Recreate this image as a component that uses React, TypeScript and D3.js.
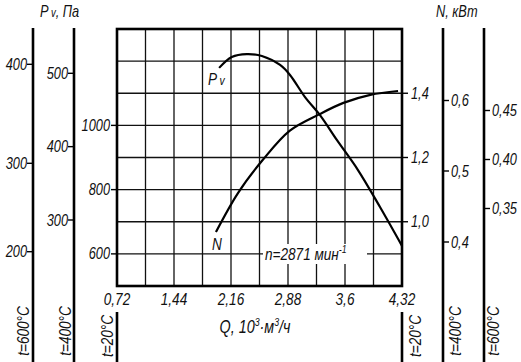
import React from 'react';
import { scaleLinear, line, curveCatmullRom } from 'd3';

// flow axis
const qTicks = [0.72, 1.44, 2.16, 2.88, 3.6, 4.32];
const qGrid = [0.72, 1.08, 1.44, 1.8, 2.16, 2.52, 2.88, 3.24, 3.6, 3.96, 4.32];

// Pv curve (20°C scale)
const pvQ = [2.01, 2.17, 2.36, 2.55, 2.78, 2.905, 3.095, 3.284, 3.499, 3.764, 4.042, 4.32];
const pvVals = [1179, 1213, 1222, 1216, 1188, 1157, 1088, 1032, 954, 861, 746, 625];

// N curve (20°C scale)
const nQ = [1.97, 2.25, 2.56, 2.9, 3.28, 3.58, 3.92, 4.27];
const nVals = [0.968, 1.09, 1.192, 1.283, 1.335, 1.37, 1.395, 1.407];

// axis ticks
const pvGrid = [500, 600, 700, 800, 900, 1000, 1100, 1200, 1300];
const pv20Ticks = [600, 800, 1000];
const pv400Ticks = [300, 400, 500];
const pv600Ticks = [200, 300, 400];
const n20Ticks = [1.0, 1.2, 1.4];
const n400Ticks = [0.4, 0.5, 0.6];
const n600Ticks = [0.35, 0.40, 0.45];

const FONT = "'Liberation Sans', Arial, sans-serif";
const comma = (v: number, d: number) => v.toFixed(d).replace('.', ',');

// narrow italic text (squeezed horizontally, like Arial Narrow)
const T = ({ x, y, size = 16, anchor = 'start', rotate = 0, children }: any) => (
    <text transform={`translate(${x},${y}) rotate(${rotate}) scale(0.8,1)`}
        fontFamily={FONT} fontStyle="italic" fontSize={size} fill="#111" textAnchor={anchor}>
        {children}
    </text>
);

export default function App() {
    const left = 117, right = 402, top = 29, bottom = 286;

    const x = scaleLinear().domain([0.72, 4.32]).range([left, right]);
    const yPv = scaleLinear().domain([500, 1300]).range([bottom, top]);
    const yN = scaleLinear().domain([0.8, 1.6]).range([bottom, top]);
    const yPv400 = scaleLinear().domain([300, 500]).range([220, 73.3]);
    const yPv600 = scaleLinear().domain([200, 300, 400]).range([251.7, 163.3, 64.3]);
    const yN400 = scaleLinear().domain([0.4, 0.5, 0.6]).range([242, 171, 100.5]);
    const yN600 = scaleLinear().domain([0.35, 0.40, 0.45]).range([208.5, 159.5, 110.5]);

    const pvLine = line<number>()
        .x((d, i) => x(pvQ[i]))
        .y(d => yPv(d))
        .curve(curveCatmullRom);
    const nLine = line<number>()
        .x((d, i) => x(nQ[i]))
        .y(d => yN(d))
        .curve(curveCatmullRom);

    const sideAxis = (ax: number, scale: any, ticks: number[], side: 'left' | 'right', fmt: (v: number) => string) => (
        <g>
            <line x1={ax} x2={ax} y1={28} y2={362} stroke="#000" strokeWidth={2.6} />
            {ticks.map(t => (
                <g key={t}>
                    <line x1={ax} x2={side === 'left' ? ax - 6 : ax + 6} y1={scale(t)} y2={scale(t)} stroke="#000" strokeWidth={1.4} />
                    <T x={side === 'left' ? ax - 6 : ax + 8} y={scale(t) + 5.5}
                        anchor={side === 'left' ? 'end' : 'start'}>{fmt(t)}</T>
                </g>
            ))}
        </g>
    );

    const vLabel = (cx: number, cy: number, s: string) => (
        <T x={cx + 5.5} y={cy} rotate={-90} anchor="middle" size={17}>{s}</T>
    );

    return (
        <svg width={521} height={362} style={{ position: 'absolute', left: 0, top: 0, background: '#fff' }}>
            <rect width={521} height={362} fill="#fff" />

            {/* grid */}
            {qGrid.map(q => (
                <line key={'v' + q} x1={x(q)} x2={x(q)} y1={top} y2={bottom} stroke="#111" strokeWidth={1.3} />
            ))}
            {pvGrid.map(p => (
                <line key={'h' + p} x1={left} x2={right} y1={yPv(p)} y2={yPv(p)} stroke="#111" strokeWidth={1.3} />
            ))}

            {/* rotation speed label */}
            <rect x={263} y={244} width={104} height={20} fill="#fff" />
            <T x={265} y={260} size={17}>n=2871 мин<tspan fontSize={11} dy={-7}>-1</tspan></T>

            {/* curves */}
            <path d={pvLine(pvVals) || ''} fill="none" stroke="#000" strokeWidth={2.2} />
            <path d={nLine(nVals) || ''} fill="none" stroke="#000" strokeWidth={2.2} />
            <T x={208} y={85} size={17}>P<tspan fontSize={13} dx={3}>v</tspan></T>
            <T x={212} y={250} size={17}>N</T>

            {/* frame */}
            <rect x={left} y={top} width={right - left} height={bottom - top} fill="none" stroke="#000" strokeWidth={2.6} />
            <line x1={left} x2={left} y1={312} y2={362} stroke="#000" strokeWidth={2.6} />
            <line x1={right} x2={right} y1={312} y2={362} stroke="#000" strokeWidth={2.6} />

            {/* Q axis */}
            {qTicks.map(q => (
                <T key={'q' + q} x={x(q)} y={305} anchor="middle" size={17}>{comma(q, q === 3.6 ? 1 : 2)}</T>
            ))}
            <T x={255} y={333} anchor="middle" size={18}>
                Q, 10<tspan fontSize={11} dy={-7}>3</tspan><tspan dy={7}>·м</tspan><tspan fontSize={11} dy={-7}>3</tspan><tspan dy={7}>/ч</tspan>
            </T>

            {/* Pv at 20°C on frame */}
            {pv20Ticks.map(t => (
                <g key={'p20' + t}>
                    <line x1={left - 6} x2={left} y1={yPv(t)} y2={yPv(t)} stroke="#000" strokeWidth={1.4} />
                    <T x={left - 7} y={yPv(t) + 5.5} anchor="end">{t}</T>
                </g>
            ))}
            {/* N at 20°C on frame */}
            {n20Ticks.map(t => (
                <g key={'n20' + t}>
                    <line x1={right} x2={right + 6} y1={yN(t)} y2={yN(t)} stroke="#000" strokeWidth={1.4} />
                    <T x={right + 9} y={yN(t) + 5.5}>{comma(t, 1)}</T>
                </g>
            ))}

            {sideAxis(33, yPv600, pv600Ticks, 'left', v => String(v))}
            {sideAxis(74, yPv400, pv400Ticks, 'left', v => String(v))}
            {sideAxis(443, yN400, n400Ticks, 'right', v => comma(v, 1))}
            {sideAxis(484, yN600, n600Ticks, 'right', v => comma(v, 2))}

            {/* titles */}
            <T x={40} y={17} size={16}>P<tspan fontSize={12} dx={3}>v</tspan>, Па</T>
            <T x={436} y={17} size={16}>N, кВт</T>

            {vLabel(23, 331, 't=600°C')}
            {vLabel(65, 331, 't=400°C')}
            {vLabel(107, 336, 't=20°C')}
            {vLabel(415, 336, 't=20°C')}
            {vLabel(455, 331, 't=400°C')}
            {vLabel(493, 331, 't=600°C')}
        </svg>
    );
}
